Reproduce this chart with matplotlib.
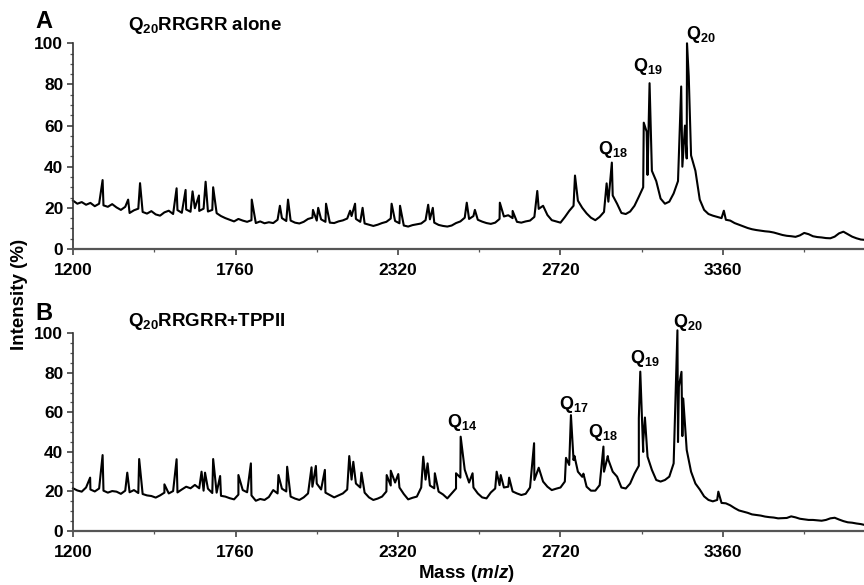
import numpy as np
import matplotlib.pyplot as plt

plt.rcParams['font.family'] = 'Liberation Sans'
plt.rcParams['font.weight'] = 'bold'
plt.rcParams['mathtext.fontset'] = 'custom'
plt.rcParams['mathtext.bf'] = 'Liberation Sans:bold'
plt.rcParams['mathtext.rm'] = 'Liberation Sans:bold'
plt.rcParams['mathtext.it'] = 'Liberation Sans:bold:italic'
plt.rcParams['mathtext.default'] = 'bf'

# mass grid of the traces (m/z, 15 units per sample)
mass = np.arange(1200, 3931, 15)

# panel A: Q20RRGRR alone, background trace
int_a = [
    23.5, 22.0, 22.8, 21.5, 22.4, 20.8, 22.0, 21.2, 20.5, 21.8,
    20.2, 19.0, 20.5, 17.5, 18.8, 19.6, 18.0, 17.2, 18.4, 16.8,
    16.2, 17.8, 18.6, 17.0, 18.9, 17.6, 19.2, 18.1, 19.8, 18.5,
    19.6, 18.2, 19.0, 17.4, 16.0, 15.0, 14.2, 13.4, 14.6, 13.8,
    13.2, 14.0, 12.6, 13.4, 12.5, 13.0, 12.6, 14.2, 15.0, 13.6,
    13.8, 12.8, 12.4, 13.2, 14.6, 15.2, 13.8, 14.4, 13.2, 12.8,
    12.6, 13.4, 13.9, 14.8, 16.0, 14.6, 13.2, 12.4, 11.8, 11.2,
    11.8, 12.6, 13.2, 14.8, 13.6, 12.5, 11.4, 10.9, 11.6, 12.0,
    12.4, 14.0, 14.4, 12.8, 11.7, 11.2, 10.9, 11.4, 12.6, 13.4,
    15.2, 14.6, 16.0, 14.2, 13.3, 12.6, 12.2, 12.8, 14.6, 15.8,
    16.4, 15.0, 13.2, 12.8, 13.4, 13.8, 15.6, 19.5, 21.0, 16.5,
    14.0, 13.4, 12.8, 15.5, 18.5, 21.0, 23.5, 20.0, 17.3, 15.2,
    14.0, 15.6, 18.0, 23.0, 26.0, 22.0, 17.5, 17.0, 18.2, 21.0,
    25.4, 30.0, 36.0, 38.0, 33.0, 24.5, 22.0, 23.0, 27.0, 33.0,
    40.0, 44.0, 45.5, 38.0, 24.0, 19.0, 17.0, 16.2, 15.6, 15.0,
    14.2, 13.8, 12.6, 11.8, 11.0, 10.2, 9.6, 9.2, 8.9, 8.6,
    8.4, 8.0, 7.4, 6.8, 6.4, 6.2, 5.9, 6.6, 7.8, 7.2,
    6.2, 5.8, 5.6, 5.3, 5.2, 6.0, 7.6, 8.4, 7.2, 6.0,
    5.2, 4.6, 4.4,
]
spike_mass_a = [1302, 1390, 1431, 1557, 1588, 1612, 1634, 1657, 1683, 1816,
                1913, 1941, 2027, 2045, 2072, 2155, 2172, 2198, 2298, 2327,
                2424, 2440, 2557, 2585, 2671, 2715, 2800, 2930, 3039, 3057,
                3167, 3177, 3187, 3296, 3309, 3316, 3322, 3443]
spike_int_a = [33.5, 24.0, 32.0, 29.5, 28.7, 28.0, 26.0, 32.7, 30.0, 24.0,
               21.0, 24.0, 19.0, 20.0, 22.0, 18.6, 22.0, 20.0, 22.0, 21.0,
               21.5, 20.0, 22.5, 19.0, 22.5, 18.5, 28.2, 35.7, 31.9, 42.0,
               61.4, 57.0, 80.6, 79.0, 60.0, 100.0, 84.0, 18.6]

# panel B: Q20RRGRR + TPPII
int_b = [
    21.6, 20.5, 19.9, 22.0, 21.0, 20.0, 21.5, 20.4, 19.4, 20.2,
    19.9, 18.8, 20.4, 19.6, 20.7, 19.2, 18.7, 18.0, 17.7, 16.9,
    18.0, 19.4, 19.0, 20.2, 19.5, 21.0, 22.4, 21.6, 23.3, 21.6,
    20.4, 21.4, 19.2, 19.4, 17.8, 17.4, 16.6, 16.0, 18.4, 20.7,
    19.6, 18.0, 15.3, 16.2, 15.7, 17.2, 20.7, 19.0, 21.4, 20.0,
    17.4, 16.4, 15.7, 17.0, 19.0, 22.4, 24.0, 21.0, 19.4, 18.2,
    17.0, 18.0, 19.0, 21.0, 26.0, 24.0, 22.0, 19.4, 17.0, 15.7,
    16.4, 17.4, 20.0, 23.0, 24.5, 22.0, 18.7, 16.0, 16.8, 17.4,
    22.0, 26.0, 23.0, 21.6, 19.9, 18.5, 16.5, 19.0, 21.5, 27.0,
    31.0, 24.5, 22.0, 19.0, 17.0, 16.5, 19.5, 21.5, 23.2, 22.0,
    22.4, 20.0, 19.0, 18.2, 18.8, 22.0, 25.8, 32.0, 25.0, 22.4,
    20.7, 21.4, 22.0, 25.0, 33.4, 35.9, 30.0, 27.4, 22.4, 20.4,
    20.4, 23.2, 30.0, 36.0, 30.0, 27.5, 22.0, 21.5, 24.0, 29.0,
    33.0, 40.0, 37.6, 30.9, 25.8, 25.0, 25.8, 27.5, 34.2, 45.0,
    48.0, 41.0, 30.0, 24.0, 21.0, 17.5, 15.7, 15.0, 15.7, 14.2,
    14.0, 13.0, 11.6, 10.4, 9.8, 9.2, 8.4, 8.1, 7.8, 7.3,
    7.0, 6.8, 6.4, 6.5, 6.6, 7.4, 6.9, 6.2, 5.9, 5.6,
    5.6, 5.4, 5.2, 5.6, 6.4, 6.7, 5.8, 5.0, 4.4, 4.2,
    3.8, 3.5, 3.0,
]
spike_mass_b = [1259, 1302, 1387, 1428, 1515, 1557, 1643, 1655, 1683, 1707,
                1770, 1813, 1908, 1938, 2022, 2037, 2068, 2152, 2166, 2194,
                2281, 2295, 2321, 2407, 2422, 2447, 2520, 2536, 2577, 2660,
                2674, 2703, 2789, 2899, 2916, 2928, 2959, 3028, 3043, 3150,
                3155, 3165, 3171, 3283, 3288, 3297, 3303, 3424]
spike_int_b = [27.0, 38.4, 29.5, 36.4, 23.6, 36.3, 30.0, 29.5, 36.4, 27.8,
               28.3, 34.2, 28.3, 32.5, 32.2, 32.9, 30.9, 37.9, 35.0, 29.5,
               28.3, 30.5, 28.8, 37.6, 34.2, 29.2, 29.2, 47.7, 29.2, 30.0,
               28.3, 27.0, 44.4, 37.0, 58.6, 38.0, 29.0, 42.7, 37.9, 57.0,
               80.6, 45.0, 57.4, 101.5, 73.0, 80.5, 67.0, 19.9]

tick_pos = [1200, 1760, 2320, 2880, 3440]
tick_labels = ['1200', '1760', '2320', '2720', '3360']

peaks_a = ['18', '19', '20']
peaks_b = ['14', '17', '18', '19', '20']


def merge(base, smass, sint):
    x = np.concatenate([mass, smass])
    y = np.concatenate([base, sint])
    order = np.argsort(x, kind='stable')
    return x[order], y[order]


fig = plt.figure(figsize=(8.64, 5.85), dpi=100)
ax_a = fig.add_axes([0.0845, 0.5744, 0.9155, 0.3516])
ax_b = fig.add_axes([0.0845, 0.0923, 0.9155, 0.338])

for ax, base, sm, si in [(ax_a, int_a, spike_mass_a, spike_int_a),
                         (ax_b, int_b, spike_mass_b, spike_int_b)]:
    x, y = merge(base, sm, si)
    ax.plot(x, y, color='black', lw=1.5, clip_on=False)
    ax.set_xlim(1200, 3926)
    ax.set_ylim(0, 100)
    ax.spines['top'].set_visible(False)
    ax.spines['right'].set_visible(False)
    ax.spines['left'].set_color('#333333')
    ax.spines['bottom'].set_color('#555555')
    ax.spines['left'].set_linewidth(1.2)
    ax.spines['bottom'].set_linewidth(1.6)
    ax.set_xticks(tick_pos)
    ax.set_xticklabels(tick_labels)
    ax.set_xticks([1480, 2040, 2600, 3160, 3720], minor=True)
    ax.set_yticks(range(0, 101, 20))
    ax.set_yticks(range(0, 101, 5), minor=True)
    ax.tick_params(axis='both', which='major', direction='out', length=4,
                   width=1.1, color='#333333', labelsize=12.5)
    ax.tick_params(axis='both', which='minor', direction='out', length=2.5,
                   width=0.9, color='#555555')
    ax.tick_params(axis='x', pad=6)
    ax.tick_params(axis='y', pad=3)
    for lab in ax.get_xticklabels() + ax.get_yticklabels():
        lab.set_fontweight('bold')

# panel letters and titles
fig.text(0.041, 0.952, 'A', fontsize=17, fontweight='bold', va='baseline')
fig.text(0.041, 0.453, 'B', fontsize=17, fontweight='bold', va='baseline')
fig.text(0.148, 0.949, r'Q$_{20}$RRGRR alone', fontsize=13.5,
         fontweight='bold', va='baseline')
fig.text(0.148, 0.443, r'Q$_{20}$RRGRR+TPPII', fontsize=13.5,
         fontweight='bold', va='baseline')

fig.text(0.023, 0.497, 'Intensity (%)', rotation=90, fontsize=13.5,
         fontweight='bold', ha='center', va='center')
fig.text(0.54, 0.019, r'Mass ($\mathit{m/z}$)', fontsize=13.5,
         fontweight='bold', ha='center', va='center')

# peak labels
pos_a = [(3009, 43.3), (3130, 83.6), (3312, 99.2)]
for name, (px, py) in zip(peaks_a, pos_a):
    ax_a.text(px, py, 'Q$_{' + name + '}$', fontsize=13, fontweight='bold',
              ha='left', va='bottom', clip_on=False)

pos_b = [(2489, 49.6), (2875, 58.7), (2975, 44.5), (3119, 82.0), (3268, 100.2)]
for name, (px, py) in zip(peaks_b, pos_b):
    ax_b.text(px, py, 'Q$_{' + name + '}$', fontsize=13, fontweight='bold',
              ha='left', va='bottom', clip_on=False)

fig.savefig('out.png', dpi=100)
